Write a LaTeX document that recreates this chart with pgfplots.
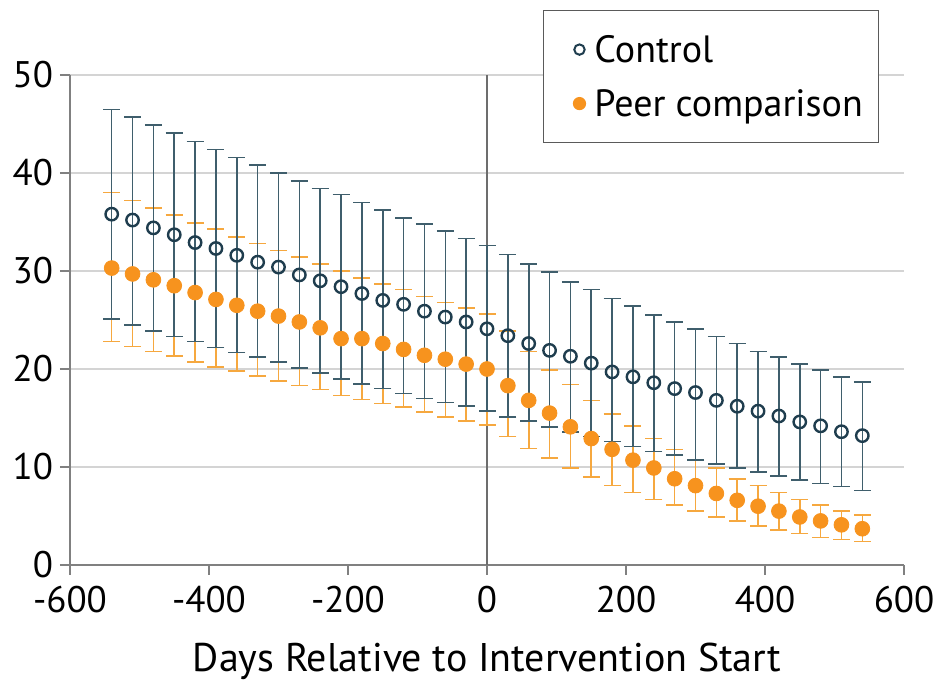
\documentclass[border=0pt]{standalone}
\usepackage{pgfplots}
\pgfplotsset{compat=1.18}
\usepackage{pgfplotstable}
\usepackage{fontspec}
\setmainfont{PT Sans}
\definecolor{ctrl}{HTML}{1F3D4E}
\definecolor{ctrlbar}{HTML}{3F5E6C}
\definecolor{peer}{HTML}{F7931E}
\definecolor{peerbar}{HTML}{F6A83F}
\definecolor{axgray}{HTML}{808080}
\definecolor{gridgray}{HTML}{D4D4D4}
\pgfplotstableread{
x c cl ch p pl ph
-540 35.8 25.1 46.5 30.3 22.8 38.0
-510 35.2 24.5 45.7 29.7 22.3 37.2
-480 34.4 23.9 44.9 29.1 21.8 36.4
-450 33.7 23.3 44.1 28.5 21.3 35.7
-420 32.9 22.8 43.2 27.8 20.7 34.9
-390 32.3 22.2 42.4 27.1 20.2 34.3
-360 31.6 21.7 41.6 26.5 19.8 33.5
-330 30.9 21.2 40.8 25.9 19.3 32.8
-300 30.4 20.7 40.0 25.4 18.8 32.1
-270 29.6 20.1 39.2 24.8 18.3 31.4
-240 29.0 19.6 38.4 24.2 17.9 30.7
-210 28.4 19.0 37.8 23.1 17.3 30.0
-180 27.7 18.5 37.0 23.1 16.9 29.3
-150 27.0 18.0 36.2 22.6 16.5 28.7
-120 26.6 17.5 35.4 22.0 16.1 28.1
-90 25.9 17.0 34.8 21.4 15.6 27.4
-60 25.3 16.6 34.1 21.0 15.1 26.8
-30 24.8 16.2 33.3 20.5 14.7 26.2
0 24.1 15.7 32.6 20.0 14.3 25.6
30 23.4 15.1 31.7 18.3 13.1 23.9
60 22.6 14.7 30.7 16.8 11.9 21.8
90 21.9 14.1 29.9 15.5 10.9 19.9
120 21.3 13.6 28.9 14.1 9.9 18.4
150 20.6 13.1 28.1 12.9 9.0 16.8
180 19.7 12.6 27.2 11.8 8.1 15.4
210 19.2 12.1 26.4 10.7 7.4 14.2
240 18.6 11.6 25.5 9.9 6.7 12.9
270 18.0 11.2 24.8 8.8 6.1 11.8
300 17.6 10.7 24.1 8.1 5.5 10.7
330 16.8 10.3 23.3 7.3 4.9 9.9
360 16.2 9.9 22.6 6.6 4.5 8.8
390 15.7 9.5 21.8 6.0 4.0 8.1
420 15.2 9.1 21.2 5.5 3.6 7.4
450 14.6 8.7 20.5 4.9 3.2 6.7
480 14.2 8.3 19.9 4.5 2.8 6.1
510 13.6 8.0 19.2 4.1 2.6 5.5
540 13.2 7.6 18.7 3.7 2.4 5.1
}\datatable
\begin{document}
\begin{tikzpicture}
\useasboundingbox (-35pt,-60.5pt) rectangle (434.5pt,282.5pt);
\begin{axis}[
  at={(0,0)}, anchor=south west,
  scale only axis,
  width=417pt, height=245pt,
  xmin=-600, xmax=600, ymin=0, ymax=50,
  xtick={-600,-400,...,600},
  ytick={0,10,...,50},
  axis lines*=left,
  axis line style={axgray, line width=0.8pt},
  tick style={axgray, line width=0.8pt},
  tick align=outside,
  major tick length=5pt,
  ymajorgrids,
  grid style={gridgray, line width=0.8pt},
  /pgf/number format/assume math mode=true,
  ticklabel style={font=\fontsize{18.5}{20}\selectfont},
  xticklabel style={yshift=-2pt},
  xlabel={Days Relative to Intervention Start},
  xlabel style={font=\fontsize{20}{22}\selectfont, yshift=-8pt},
  clip=false,
  legend style={
    at={(rel axis cs:0.567,1.1327)}, anchor=north west,
    draw=axgray!70!black, line width=0.6pt,
    font=\fontsize{19}{21}\selectfont,
    inner xsep=6pt, inner ysep=8pt, row sep=4pt,
    nodes={inner ysep=2pt, text height=16pt, text depth=3pt},
    cells={anchor=west},
    fill=white
  },
  legend cell align=left,
  legend image code/.code={\draw[#1] plot coordinates {(0pt,0pt)}; \path (-11.5pt,0pt) (5pt,0pt);},
]
\addplot[axgray!85!black, line width=1pt, forget plot] coordinates {(0,0) (0,50)};
\addplot[only marks, mark=*, mark size=3.7pt, color=peer, forget plot,
  error bars/.cd, y dir=both, y explicit,
  error bar style={peerbar, line width=0.8pt},
  error mark options={rotate=90, peerbar, line width=0.8pt, mark size=4.25pt}]
  table[x=x, y=p, y error plus expr=\thisrow{ph}-\thisrow{p}, y error minus expr=\thisrow{p}-\thisrow{pl}] {\datatable};
\addplot[only marks, mark=o, mark size=3.1pt, draw=ctrl, fill=white, line width=1.2pt, forget plot,
  mark options={fill=white},
  error bars/.cd, y dir=both, y explicit,
  error bar style={ctrlbar, line width=0.8pt},
  error mark options={rotate=90, ctrlbar, line width=0.8pt, mark size=4.25pt}]
  table[x=x, y=c, y error plus expr=\thisrow{ch}-\thisrow{c}, y error minus expr=\thisrow{c}-\thisrow{cl}] {\datatable};
\addlegendimage{only marks, mark=o, mark size=2.6pt, draw=ctrl, line width=1pt}
\addlegendentry{Control}
\addlegendimage{only marks, mark=*, mark size=3pt, color=peer}
\addlegendentry{Peer comparison}
\end{axis}
\end{tikzpicture}
\end{document}
